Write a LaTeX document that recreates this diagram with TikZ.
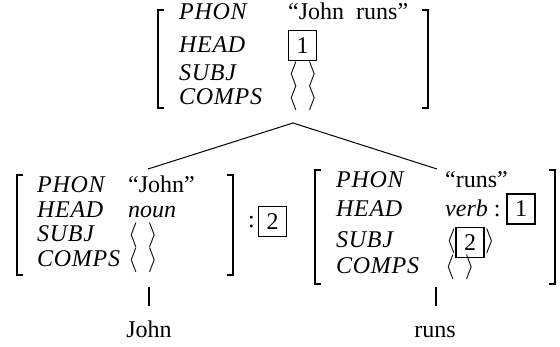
\documentclass[tikz,border=0pt]{standalone}
\usepackage{fontspec}
\setmainfont{Liberation Serif}
\newfontfamily\featfont[LetterSpace=3]{Liberation Serif}
\usetikzlibrary{positioning}
\newcommand{\avmsize}{\fontsize{24}{28}\selectfont}
\newcommand{\abra}{$\langle$}
\newcommand{\aket}{$\rangle$}
\newcommand{\emptylist}{\abra\ \,\aket}
\tikzstyle{feat} = [anchor=base west, inner sep=0pt, font=\avmsize\featfont\itshape]
\tikzstyle{val} = [anchor=base west, inner sep=0pt, font=\avmsize]
\tikzstyle{tag} = [rectangle, draw=black, line width=1.3pt, minimum width=28pt, minimum height=30pt, inner sep=0pt, font=\avmsize]
\tikzstyle{bracket} = [line width=1.4pt]
\tikzstyle{branch} = [line width=1pt]
\tikzstyle{lexical} = [line width=1.8pt]
\tikzstyle{word} = [anchor=base, inner sep=0pt, font=\avmsize]

\begin{document}
\begin{tikzpicture}[x=1pt, y=-1pt]

    \useasboundingbox (0,0) rectangle (560,347);

    % mother: John runs
    \node (mphon) [feat] at (179,20) {PHON};
    \node (mhead) [feat] at (179,53) {HEAD};
    \node (msubj) [feat] at (179,81) {SUBJ};
    \node (mcomps) [feat] at (179,105) {COMPS};
    \node (mphonv) [val] at (288,20) {“John\ \ runs”};
    \node (mheadv) [tag] at (302.5,45.5) {1};
    \node (msubjv) [val] at (288,81) {\emptylist};
    \node (mcompsv) [val] at (288,105) {\emptylist};
    \draw [bracket] (164,10) -- (158,10) -- (158,108) -- (164,108);
    \draw [bracket] (422,10) -- (428,10) -- (428,108) -- (422,108);

    % subject daughter: John
    \node (jphon) [feat] at (37,193) {PHON};
    \node (jhead) [feat] at (37,218) {HEAD};
    \node (jsubj) [feat] at (37,242) {SUBJ};
    \node (jcomps) [feat] at (37,267) {COMPS};
    \node (jphonv) [val] at (128,193) {“John”};
    \node (jheadv) [val] at (128,218) {\textit{noun}};
    \node (jsubjv) [val] at (128,242) {\emptylist};
    \node (jcompsv) [val] at (128,267) {\emptylist};
    \draw [bracket] (23,175) -- (17,175) -- (17,275) -- (23,275);
    \draw [bracket] (227,175) -- (233,175) -- (233,275) -- (227,275);
    \node (jcolon) [val] at (248,228) {:};
    \node (jtag) [tag] at (272.5,221.5) {2};

    % head daughter: runs
    \node (rphon) [feat] at (336,188) {PHON};
    \node (rhead) [feat] at (336,217) {HEAD};
    \node (rsubj) [feat] at (336,248) {SUBJ};
    \node (rcomps) [feat] at (336,274) {COMPS};
    \node (rphonv) [val] at (445,188) {“runs”};
    \node (rheadv) [val] at (445,217) {\textit{verb}\ :};
    \node (rheadtag) [tag] at (521,209) {1};
    \node (rsubjl) [val] at (446,248) {\abra};
    \node (rsubjtag) [tag] at (470,242.5) {2};
    \node (rsubjr) [val] at (485,248) {\aket};
    \node (rcompsv) [val] at (445,274) {\emptylist};
    \draw [bracket] (321,170) -- (315,170) -- (315,284) -- (321,284);
    \draw [bracket] (549,170) -- (555,170) -- (555,284) -- (549,284);

    % tree
    \coordinate (apex) at (293,123);
    \coordinate (jtop) at (148,169);
    \coordinate (rtop) at (437,169);
    \draw [branch] (jtop) -- (apex) -- (rtop);

    \coordinate (jleaf) at (149,287);
    \coordinate (jfoot) at (149,306);
    \coordinate (rleaf) at (436,287);
    \coordinate (rfoot) at (436,306);
    \draw [lexical] (jleaf) -- (jfoot);
    \draw [lexical] (rleaf) -- (rfoot);

    \node (john) [word] at (149,338) {John};
    \node (runs) [word] at (435,338) {runs};

\end{tikzpicture}
\end{document}
